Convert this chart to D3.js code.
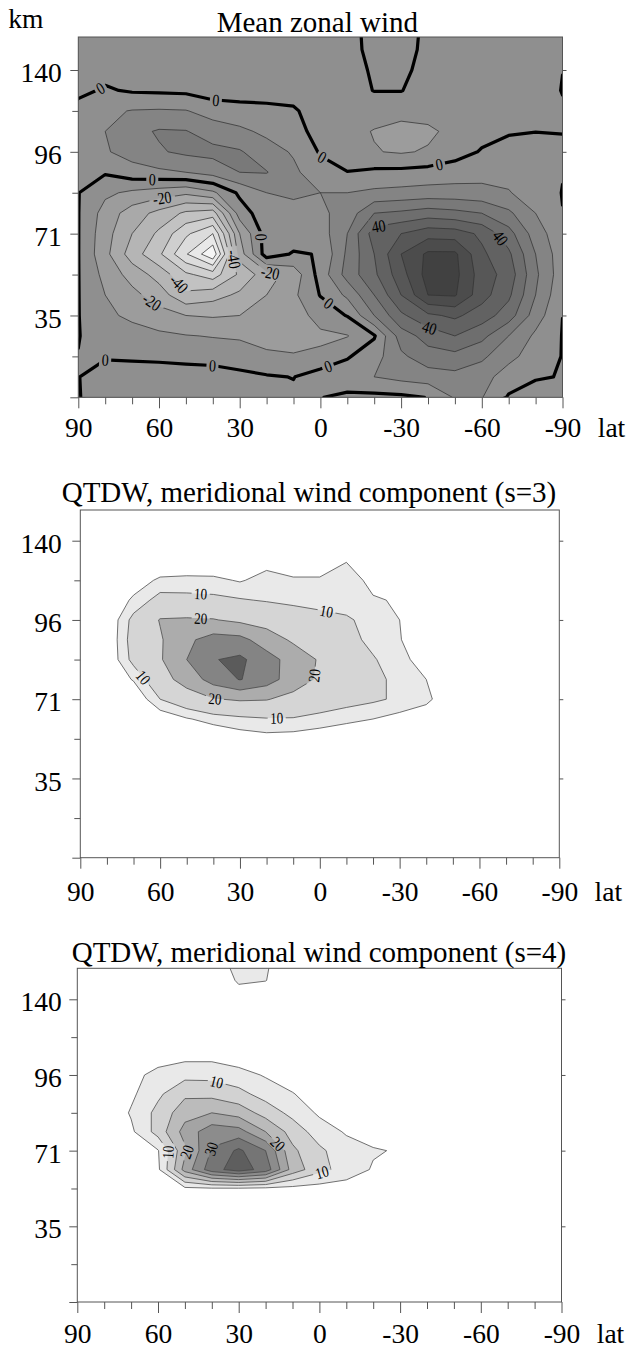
<!DOCTYPE html>
<html>
<head>
<meta charset="utf-8">
<script src="https://cdn.jsdelivr.net/npm/d3@7"></script>
<style>
  html, body { margin: 0; padding: 0; background: #fff; }
  svg { display: block; }
  svg text { font-family: "Liberation Serif", "Times New Roman", serif; fill: #000; }
  .axis .tick text { font-size: 27.5px; }
  .title { font-size: 29px; }
  .unit { font-size: 27.5px; }
</style>
</head>
<body>
<svg id="chart" width="629" height="1358"></svg>
<script>
// ---- grid coordinates ----
const lats = [90, 80, 70, 60, 50, 40, 30, 20, 10, 0, -10, -20, -30, -40, -50, -60, -70, -80, -90];
// vertical grid positions, in altitude-level units (top row first)
const levelIdx = [9, 8.5, 8, 7.5, 7, 6.5, 6, 5.5, 5, 4.5, 4, 3.5, 3, 2.5, 2, 1.5, 1, 0.5, 0];
const levelTicks = [0, 1, 2, 3, 4, 5, 6, 7, 8];
const altitudeLevel = [2, 4, 6, 8];
const altitudeKm = [35, 71, 96, 140];
const latTicks = [90, 80, 70, 60, 50, 40, 30, 20, 10, 0, -10, -20, -30, -40, -50, -60, -70, -80, -90];
const latLabels = [90, 60, 30, 0, -30, -60, -90];

// ---- mean zonal wind (m/s), rows top to bottom, columns 90N..90S ----
const zonalWind = [
  [-4, -4, -4, -4, -4, -4, -4, -4, -4, -4, -3, 3, 3, -1.5, -4, -4, -4, -4, -4],
  [-4, -4, -4, -4, -4, -4, -4, -4, -4, -4, -3, 2.5, 3, -2, -4, -4, -4, -4, -4],
  [-4, -3, -4, -4, -4, -4, -4, -4, -4, -4, -3, 1, 2, -3, -4, -4, -4, -4, -0.1],
  [-2, 1, -1, -1.5, -2, -5, -5, -5, -5, -5, -4, 0.3, 0.3, -4, -5, -5, -5, -4, 0.3],
  [3, 8, 10.5, 11, 10.5, 6, 4, 3, 1.5, -6, -6, -6, -6, -6, -6, -5, -4, -2, -1],
  [2, 10, 17, 21, 20.5, 15, 12, 8, 4, -4, -7, -10.5, -14, -12, -7, -3, -1, -0.2, -0.3],
  [2, 9, 14, 19, 22, 23, 21, 14, 9, -1, -8, -9.5, -11, -9, -4, 0.75, 4, 4.8, 2],
  [0.5, 1, 6, 8, 10, 14, 20, 20.5, 12, 4, 0.4, 2, 2.5, 3.5, 5, 6.5, 7.5, 7, 0.45],
  [0.3, -8, -12, -15, -18, -12, 2, 10, 11, 10, 10, 12, 13, 14, 14, 13, 10.5, 6, -0.3],
  [0.3, -14, -25, -33, -42, -45, -5, 6, 8, 8, 14, 30, 32, 35, 33, 30, 22, 10, 0.2],
  [0.3, -16, -30, -42, -58, -70, -20, 5, 6, 5, 20, 45, 50, 56, 55, 48, 34, 15, 3],
  [0.3, -17, -35, -48, -69, -88, -25, 5, -1, 0.5, 22, 40, 60, 72, 72, 52, 42, 20, 4],
  [0.3, -13, -24, -34, -48, -55, -38, -24, -16, 4, 24, 38, 56, 74, 73, 55, 46, 22, 4],
  [0.3, -10, -17, -25, -38, -34, -28, -20, -12, 0.5, 12, 30, 50, 70, 71, 54, 42, 20, 2],
  [0.3, -8, -12, -16, -20, -21, -20, -18, -15, -6, 0.5, 20, 38, 48, 52, 45, 35, 15, 0.05],
  [0.3, -4, -6, -8, -9.5, -10.5, -11, -12, -12.5, -12, -10.5, -1, 25, 34, 40, 33, 20, 8, -0.3],
  [-0.2, -1, -1.5, -2, -3, -4, -6, -9, -9.5, -8, -1, 6, 18, 26, 27, 22, 13, 5, -0.3],
  [-0.3, 5, 5, 5, 5, 5, 3, 1, -0.3, 5, 6, 10, 13, 15, 17, 14, 5, 0.6, -0.3],
  [-0.3, 3, 3, 3, 3, 3.5, 3.5, 3, 2, 0.3, -2, -2.5, -2, 0.3, 11, 10.5, -1, -3, -0.3]
];
const zonalLevels = [-90, -80, -70, -60, -50, -40, -30, -20, -10, 0, 10, 20, 30, 40, 50, 60, 70];
// contour labels: [lat, level, value]
const zonalLabels = [
  [82, 7.58, 0], [39, 7.14, 0], [-0.5, 5.85, 0], [-44, 5.74, 0], [62.5, 5.36, 0], [27, 3.9, 0],
  [58.5, 4.72, -20], [32.5, 3.37, -40], [19, 2.93, -20], [54.8, 2.64, -40], [64, 2.2, -20],
  [82, 0.93, 0], [40, 0.93, 0], [-2.3, 0.85, 0], [-2.3, 2.23, 0],
  [-21.4, 4.28, 40], [-63, 3.7, 40], [-40.7, 1.73, 40]
];

// ---- QTDW meridional wind amplitude, s=3 ----
const s3Wind = [
  [0, 0, 0, 0, 0, 0, 0, 0, 0, 0, 0, 0, 0, 0, 0, 0, 0, 0, 0],
  [0, 0, 0, 0, 0, 0, 0, 0, 0, 0, 0, 0, 0, 0, 0, 0, 0, 0, 0],
  [0, 0, 0, 0, 0, 0, 0, 0, 0, 0, 0, 0, 0, 0, 0, 0, 0, 0, 0],
  [0, 0, 0, 0, 0, 0, 0, 3, 0, 0, 4.5, 0, 0, 0, 0, 0, 0, 0, 0],
  [0, 0, 2, 6, 6.5, 6.3, 4.5, 7, 6, 6, 10, 2, 0, 0, 0, 0, 0, 0, 0],
  [0, 0, 6, 12.5, 12, 11.5, 10.5, 9.5, 8.5, 8, 7.5, 6, 4, 0, 0, 0, 0, 0, 0],
  [0, 0, 12, 20.5, 21, 20.5, 18, 16, 14, 12, 10.8, 8, 5, 0, 0, 0, 0, 0, 0],
  [0, 0, 13, 19, 28, 34, 33, 25, 18.5, 14.5, 12, 8.5, 5.3, 1, 0, 0, 0, 0, 0],
  [0, 0, 12, 19, 30, 39.5, 42, 34, 26, 19, 14, 10.5, 7, 2, 0, 0, 0, 0, 0],
  [0, 0, 5.5, 16, 24, 34, 40.5, 34.5, 25, 18.5, 14.5, 11.5, 8.5, 5, 0, 0, 0, 0, 0],
  [0, 0, 0, 10, 15, 19.5, 21, 20.5, 17, 14.5, 12.5, 11, 9, 6.5, 0, 0, 0, 0, 0],
  [0, 0, 0, 1, 4.5, 7, 8.5, 9.5, 9.5, 8, 6.5, 5, 3, 1, 0, 0, 0, 0, 0],
  [0, 0, 0, 0, 0, 0, 2, 3, 2.5, 1.5, 0, 0, 0, 0, 0, 0, 0, 0, 0],
  [0, 0, 0, 0, 0, 0, 0, 0, 0, 0, 0, 0, 0, 0, 0, 0, 0, 0, 0],
  [0, 0, 0, 0, 0, 0, 0, 0, 0, 0, 0, 0, 0, 0, 0, 0, 0, 0, 0],
  [0, 0, 0, 0, 0, 0, 0, 0, 0, 0, 0, 0, 0, 0, 0, 0, 0, 0, 0],
  [0, 0, 0, 0, 0, 0, 0, 0, 0, 0, 0, 0, 0, 0, 0, 0, 0, 0, 0],
  [0, 0, 0, 0, 0, 0, 0, 0, 0, 0, 0, 0, 0, 0, 0, 0, 0, 0, 0],
  [0, 0, 0, 0, 0, 0, 0, 0, 0, 0, 0, 0, 0, 0, 0, 0, 0, 0, 0]
];
const s3Levels = [5, 10, 20, 30, 40];
const s3Labels = [
  [44.8, 6.62, 10], [-2.6, 6.24, 10], [44.8, 5.98, 20], [63.6, 4.7, 10],
  [2.7, 4.6, 20], [39.5, 3.95, 20], [16.2, 3.5, 10]
];

// ---- QTDW meridional wind amplitude, s=4 ----
const s4Wind = [
  [0, 0, 0, 0, 0, 1, 8, 6, 0, 0, 0, 0, 0, 0, 0, 0, 0, 0, 0],
  [0, 0, 0, 0, 0, 0, 5.8, 5.2, 0, 0, 0, 0, 0, 0, 0, 0, 0, 0, 0],
  [0, 0, 0, 0, 0, 0, 2, 0, 0, 0, 0, 0, 0, 0, 0, 0, 0, 0, 0],
  [0, 0, 0, 0, 0, 0, 0, 0, 0, 0, 0, 0, 0, 0, 0, 0, 0, 0, 0],
  [0, 0, 0, 0, 0, 0, 0, 0, 0, 0, 0, 0, 0, 0, 0, 0, 0, 0, 0],
  [0, 0, 0, 2, 3.5, 3.5, 2, 1, 0, 0, 0, 0, 0, 0, 0, 0, 0, 0, 0],
  [0, 0, 3, 7, 8.5, 8.5, 7, 4.5, 2, 0, 0, 0, 0, 0, 0, 0, 0, 0, 0],
  [0, 0, 4, 9, 14, 13.5, 11.5, 8, 5.3, 2, 0.5, 0, 0, 0, 0, 0, 0, 0, 0],
  [0, 0.5, 5.5, 11.5, 18, 20, 18, 13, 8.5, 4.2, 1.5, 0.5, 0, 0, 0, 0, 0, 0, 0],
  [0, 0, 4, 12, 22, 28, 27, 20, 13, 7.5, 4.5, 2.5, 1, 0, 0, 0, 0, 0, 0],
  [0, 0, 0.5, 4.7, 19, 30.5, 36, 30, 16, 11, 7, 5.5, 4.5, 0, 0, 0, 0, 0, 0],
  [0, 0, 0, 4, 22, 33, 37.5, 33, 18, 11.5, 8, 4.5, 1.5, 0, 0, 0, 0, 0, 0],
  [0, 0, 0, 0.5, 4, 4.5, 4.5, 4, 3.5, 3, 2.5, 1, 0, 0, 0, 0, 0, 0, 0],
  [0, 0, 0, 0, 0, 0, 0, 0, 0, 0, 0, 0, 0, 0, 0, 0, 0, 0, 0],
  [0, 0, 0, 0, 0, 0, 0, 0, 0, 0, 0, 0, 0, 0, 0, 0, 0, 0, 0],
  [0, 0, 0, 0, 0, 0, 0, 0, 0, 0, 0, 0, 0, 0, 0, 0, 0, 0, 0],
  [0, 0, 0, 0, 0, 0, 0, 0, 0, 0, 0, 0, 0, 0, 0, 0, 0, 0, 0],
  [0, 0, 0, 0, 0, 0, 0, 0, 0, 0, 0, 0, 0, 0, 0, 0, 0, 0, 0],
  [0, 0, 0, 0, 0, 0, 0, 0, 0, 0, 0, 0, 0, 0, 0, 0, 0, 0, 0]
];
const s4Levels = [5, 10, 15, 20, 25, 30, 35];
const s4Labels = [
  [38.5, 5.72, 10], [56.4, 3.96, 10], [48.9, 3.96, 20], [40, 4.04, 30],
  [16.1, 4.13, 20], [-1.1, 3.39, 10]
];

// ---- drawing ----
const svg = d3.select("#chart");
const defs = svg.append("defs");

function drawPanel(p) {
  const x = d3.scaleLinear().domain([lats[0], lats[lats.length - 1]]).range([p.left, p.right]);
  const y = d3.scaleLinear().domain([0, 8]).range([p.bottom, p.y140]);

  const nx = lats.length, ny = levelIdx.length;
  const idxUp = levelIdx.slice().reverse();
  const flat = p.values.slice().reverse().flat();
  const dLat = lats[1] - lats[0], dIdx = idxUp[1] - idxUp[0];
  const toPx = (gx, gy) => [x(lats[0] + (gx - 0.5) * dLat), y(idxUp[0] + (gy - 0.5) * dIdx)];
  const path = d3.geoPath(d3.geoTransform({
    point(gx, gy) { const q = toPx(gx, gy); this.stream.point(q[0], q[1]); }
  }));
  const contours = d3.contours().size([nx, ny]).thresholds(p.levels)(flat);

  // clip to the plotting box
  defs.append("clipPath").attr("id", "clip" + p.id)
    .append("rect").attr("x", p.left).attr("y", p.top)
    .attr("width", p.right - p.left).attr("height", p.bottom - p.top);

  const plot = svg.append("g").attr("clip-path", `url(#clip${p.id})`);
  plot.append("rect").attr("x", p.left).attr("y", p.top)
    .attr("width", p.right - p.left).attr("height", p.bottom - p.top)
    .attr("fill", p.background);

  plot.append("g").selectAll("path").data(contours).join("path")
    .attr("d", path).attr("fill", d => p.fill(d.value)).attr("stroke", "none");

  // place each label on the nearest point of its contour, aligned with the line
  const inside = (q) => q[0] > p.left + 2 && q[0] < p.right - 2 && q[1] > p.top + 2 && q[1] < p.bottom - 2;
  const spots = p.labels.map(([lat, lev, val]) => {
    const ax = x(lat), ay = y(lev);
    const c = contours.find(k => k.value === val);
    let best = { d: Infinity, x: ax, y: ay, a: 0 };
    if (c) {
      for (const poly of c.coordinates) for (const ring of poly) {
        const pts = ring.map(r => toPx(r[0], r[1]));
        for (let i = 0; i < pts.length - 1; i++) {
          const a = pts[i], b = pts[i + 1];
          if (!inside(a) || !inside(b)) continue;
          const vx = b[0] - a[0], vy = b[1] - a[1];
          const L = vx * vx + vy * vy;
          let t = L > 0 ? ((ax - a[0]) * vx + (ay - a[1]) * vy) / L : 0;
          t = Math.max(0, Math.min(1, t));
          const qx = a[0] + t * vx, qy = a[1] + t * vy;
          const dd = (qx - ax) ** 2 + (qy - ay) ** 2;
          if (dd < best.d) {
            let ang = Math.atan2(vy, vx) * 180 / Math.PI;
            if (ang > 90) ang -= 180;
            if (ang < -90) ang += 180;
            best = { d: dd, x: qx, y: qy, a: ang };
          }
        }
      }
    }
    return { x: best.x, y: best.y, a: best.a, text: String(val) };
  });

  // mask that opens gaps in the contour lines under the labels
  const cw = p.labelSize * 0.5 * 0.82;
  const mask = defs.append("mask").attr("id", "mask" + p.id)
    .attr("maskUnits", "userSpaceOnUse").attr("x", 0).attr("y", 0)
    .attr("width", 629).attr("height", 1358);
  mask.append("rect").attr("width", 629).attr("height", 1358).attr("fill", "#fff");
  mask.selectAll("rect.gap").data(spots).join("rect").attr("class", "gap")
    .attr("x", d => -(d.text.length * cw / 2 + 2.5)).attr("y", -p.labelSize * 0.42)
    .attr("width", d => d.text.length * cw + 5).attr("height", p.labelSize * 0.84)
    .attr("transform", d => `translate(${d.x},${d.y}) rotate(${d.a})`)
    .attr("fill", "#000");

  plot.append("g").attr("mask", `url(#mask${p.id})`)
    .selectAll("path").data(contours).join("path")
    .attr("d", path).attr("fill", "none")
    .attr("stroke", d => (p.thick !== undefined && d.value === p.thick) ? "#000" : p.lineColor)
    .attr("stroke-width", d => (p.thick !== undefined && d.value === p.thick) ? 3.2 : 0.75)
    .attr("stroke-linejoin", "round");

  plot.append("g").selectAll("text").data(spots).join("text")
    .style("font-size", p.labelSize + "px")
    .attr("transform", d => `translate(${d.x},${d.y}) rotate(${d.a}) scale(0.82,1)`)
    .attr("text-anchor", "middle").attr("dy", "0.35em")
    .text(d => d.text);

  // frame
  svg.append("rect").attr("x", p.left).attr("y", p.top)
    .attr("width", p.right - p.left).attr("height", p.bottom - p.top)
    .attr("fill", "none").attr("stroke", "#555").attr("stroke-width", 1);

  // latitude axis
  const gx = svg.append("g").attr("class", "axis").attr("transform", `translate(0,${p.bottom})`)
    .call(d3.axisBottom(x).tickValues(latTicks).tickSize(7)
      .tickFormat(d => latLabels.includes(d) ? String(d) : ""));
  gx.select(".domain").remove();
  gx.selectAll(".tick line").attr("y2", d => latLabels.includes(d) ? 11 : 7).attr("stroke", "#555");
  gx.selectAll(".tick text").attr("y", p.labelGap).attr("dy", null);
  svg.append("text").attr("class", "unit").attr("x", p.right + 49).attr("y", p.bottom + p.labelGap)
    .attr("text-anchor", "middle").text("lat");

  // altitude axis
  const gy = svg.append("g").attr("class", "axis").attr("transform", `translate(${p.left},0)`)
    .call(d3.axisLeft(y).tickValues(levelTicks).tickSize(6)
      .tickFormat(d => { const i = altitudeLevel.indexOf(d); return i < 0 ? "" : String(altitudeKm[i]); }));
  gy.select(".domain").remove();
  gy.selectAll(".tick line").attr("x2", d => d % 2 === 0 ? -8 : -6).attr("stroke", "#555");
  gy.selectAll(".tick text").attr("x", 61.7 - p.left).attr("dy", "0.42em");

  const gr = svg.append("g").attr("transform", `translate(${p.right},0)`)
    .call(d3.axisRight(y).tickValues(altitudeLevel).tickSize(4).tickFormat(""));
  gr.select(".domain").remove();
  gr.selectAll("line").attr("stroke", "#555");

  svg.append("text").attr("class", "title").attr("x", p.titleX).attr("y", p.titleY).text(p.title);
}

const zonalShade = d3.scaleLinear().domain([-85, -5, 5, 65])
  .range(["#f5f5f5", "#8f8f8f", "#8f8f8f", "#4c4c4c"]);
const s3Shade = d3.scaleLinear().domain([5, 40]).range(["#e9e9e9", "#5b5b5b"]);
const s4Shade = d3.scaleLinear().domain([5, 35]).range(["#e9e9e9", "#5e5e5e"]);

drawPanel({
  id: 1, values: zonalWind, levels: zonalLevels, labels: zonalLabels, labelSize: 17,
  left: 78.3, right: 562.5, top: 37, bottom: 397.3, y140: 70, labelGap: 40,
  background: "#8f8f8f", fill: t => zonalShade(t + 5), lineColor: "#333", thick: 0,
  title: "Mean zonal wind", titleX: 216.7, titleY: 31.7
});
svg.append("text").attr("class", "unit").attr("x", 8.3).attr("y", 28.3).text("km");

drawPanel({
  id: 2, values: s3Wind, levels: s3Levels, labels: s3Labels, labelSize: 16,
  left: 80.3, right: 559.3, top: 510, bottom: 857.7, y140: 540.7, labelGap: 43,
  background: "#fff", fill: t => s3Shade(t), lineColor: "#444",
  title: "QTDW, meridional wind component (s=3)", titleX: 61.7, titleY: 501.7
});

drawPanel({
  id: 3, values: s4Wind, levels: s4Levels, labels: s4Labels, labelSize: 16,
  left: 77.3, right: 561.5, top: 968.3, bottom: 1302, y140: 999.3, labelGap: 41,
  background: "#fff", fill: t => s4Shade(t), lineColor: "#444",
  title: "QTDW, meridional wind component (s=4)", titleX: 71.7, titleY: 961.7
});
</script>
</body>
</html>
